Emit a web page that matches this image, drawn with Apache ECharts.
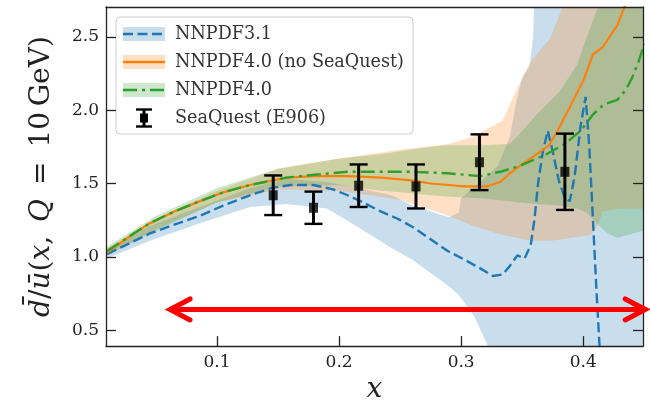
<!DOCTYPE html>
<html>
<head>
<meta charset="utf-8">
<script src="https://cdn.jsdelivr.net/npm/echarts@6/dist/echarts.min.js"></script>
<style>
  html, body { margin: 0; padding: 0; background: #fff; }
  #chart { width: 650px; height: 409px; }
</style>
</head>
<body>
<div id="chart"></div>
<script>
// ---- NNPDF3.1: central value ----
const x31 = [0.01, 0.03, 0.045, 0.065, 0.086, 0.105, 0.127, 0.145, 0.16, 0.179, 0.195, 0.207, 0.22, 0.234, 0.248, 0.261, 0.275, 0.289, 0.303, 0.316, 0.326, 0.334, 0.34, 0.346, 0.352, 0.357, 0.36, 0.363, 0.367, 0.371, 0.375, 0.38, 0.385, 0.389, 0.393, 0.398, 0.402, 0.405, 0.408, 0.411, 0.414];
const y31 = [1.02, 1.10, 1.16, 1.22, 1.28, 1.35, 1.42, 1.47, 1.49, 1.49, 1.46, 1.42, 1.37, 1.31, 1.26, 1.20, 1.12, 1.04, 0.98, 0.92, 0.87, 0.88, 0.94, 1.01, 0.99, 1.08, 1.25, 1.50, 1.72, 1.86, 1.72, 1.52, 1.40, 1.38, 1.55, 1.90, 2.09, 1.75, 1.25, 0.75, 0.30];
// ---- NNPDF3.1: uncertainty band ----
const xBand31 = [0.01, 0.045, 0.086, 0.127, 0.157, 0.19, 0.216, 0.243, 0.26, 0.29, 0.298, 0.30, 0.311, 0.322, 0.33, 0.34, 0.345, 0.35, 0.356, 0.359, 0.36, 0.45];
const lo31 = [0.99, 1.11, 1.23, 1.34, 1.36, 1.33, 1.20, 1.06, 0.98, 0.80, 0.74, 0.72, 0.59, 0.39, 0.20, 0.10, 0.10, 0.10, 0.10, 0.10, 0.10, 0.10];
const hi31 = [1.05, 1.21, 1.34, 1.47, 1.53, 1.51, 1.47, 1.42, 1.35, 1.27, 1.30, 1.40, 1.48, 1.56, 1.62, 1.82, 2.05, 2.22, 2.30, 2.50, 2.80, 2.80];

// ---- NNPDF4.0 (no SeaQuest): central value ----
const x40n = [0.01, 0.03, 0.045, 0.065, 0.086, 0.105, 0.127, 0.157, 0.18, 0.207, 0.235, 0.261, 0.275, 0.29, 0.302, 0.321, 0.332, 0.34, 0.348, 0.355, 0.362, 0.372, 0.379, 0.389, 0.40, 0.408, 0.416, 0.428, 0.436];
const y40n = [1.03, 1.15, 1.23, 1.31, 1.38, 1.44, 1.49, 1.54, 1.55, 1.55, 1.54, 1.52, 1.50, 1.49, 1.48, 1.48, 1.51, 1.57, 1.62, 1.66, 1.70, 1.76, 1.86, 2.02, 2.20, 2.38, 2.43, 2.58, 2.75];
// ---- NNPDF4.0 (no SeaQuest): uncertainty band ----
const xBand40n = [0.01, 0.05, 0.1, 0.15, 0.2, 0.25, 0.29, 0.31, 0.334, 0.346, 0.357, 0.373, 0.383, 0.39, 0.406, 0.411, 0.416, 0.43, 0.45];
const lo40n = [1.01, 1.19, 1.37, 1.46, 1.45, 1.39, 1.28, 1.21, 1.15, 1.13, 1.11, 1.11, 1.12, 1.13, 1.15, 1.20, 1.31, 1.33, 1.33];
const hi40n = [1.06, 1.26, 1.45, 1.60, 1.67, 1.73, 1.77, 1.82, 1.93, 2.15, 2.33, 2.49, 2.70, 2.80, 2.80, 2.80, 2.80, 2.80, 2.80];

// ---- NNPDF4.0: central value ----
const x40 = [0.01, 0.03, 0.045, 0.065, 0.086, 0.105, 0.127, 0.157, 0.18, 0.207, 0.235, 0.261, 0.289, 0.316, 0.332, 0.348, 0.37, 0.385, 0.398, 0.408, 0.417, 0.428, 0.435, 0.44, 0.445, 0.45];
const y40 = [1.04, 1.15, 1.23, 1.31, 1.38, 1.44, 1.49, 1.54, 1.56, 1.58, 1.58, 1.58, 1.57, 1.55, 1.58, 1.62, 1.70, 1.77, 1.86, 1.97, 2.04, 2.07, 2.14, 2.22, 2.32, 2.45];
// ---- NNPDF4.0: uncertainty band ----
const xBand40 = [0.01, 0.05, 0.1, 0.15, 0.2, 0.234, 0.25, 0.275, 0.29, 0.316, 0.34, 0.348, 0.362, 0.381, 0.395, 0.403, 0.412, 0.42, 0.428, 0.45];
const lo40 = [1.01, 1.18, 1.37, 1.48, 1.49, 1.45, 1.44, 1.42, 1.41, 1.40, 1.38, 1.37, 1.36, 1.35, 1.33, 1.30, 1.22, 1.16, 1.13, 1.18];
const hi40 = [1.07, 1.28, 1.47, 1.60, 1.67, 1.70, 1.72, 1.75, 1.76, 1.76, 1.77, 1.84, 1.97, 2.13, 2.31, 2.50, 2.70, 2.80, 2.80, 2.80];

// ---- SeaQuest (E906) measurements ----
const xSQ = [0.146, 0.179, 0.216, 0.263, 0.315, 0.385];
const ySQ = [1.42, 1.335, 1.485, 1.48, 1.645, 1.58];
const errSQ = [0.135, 0.11, 0.145, 0.15, 0.19, 0.26];

// ---- highlighted x range (red double arrow) ----
const arrowX = [0.0615, 0.4508];
const arrowY = 0.642;

// ---- axes ----
const xRange = [0.009, 0.449];
const yRange = [0.392, 2.703];
const xTicks = [0.1, 0.2, 0.3, 0.4];
const yTicks = [0.5, 1.0, 1.5, 2.0, 2.5];

const C0 = '#1f77b4', C1 = '#ff7f0e', C2 = '#2ca02c';
const SERIF = 'DejaVu Serif';
const INK = '#222';

const zip = (xs, ys) => xs.map((x, i) => [x, ys[i]]);

function bandSeries(name, xs, lo, hi, color) {
  return {
    name: name,
    type: 'custom',
    coordinateSystem: 'cartesian2d',
    clip: true,
    silent: true,
    z: 1,
    encode: { x: 0, y: 1 },
    data: [[xs[0], lo[0]]],
    renderItem: function (params, api) {
      const top = xs.map((x, i) => api.coord([x, hi[i]]));
      const bot = xs.map((x, i) => api.coord([x, lo[i]])).reverse();
      return {
        type: 'polygon',
        shape: { points: top.concat(bot) },
        style: { fill: color, opacity: 0.24 }
      };
    }
  };
}

function svgIcon(body) {
  const svg = "<svg xmlns='http://www.w3.org/2000/svg' width='52' height='20' viewBox='0 0 52 20'>" + body + "</svg>";
  return 'image://data:image/svg+xml;charset=utf-8,' + encodeURIComponent(svg);
}
function bandIcon(color, dash) {
  return svgIcon(
    "<rect x='0' y='3' width='42' height='14' fill='" + color + "' fill-opacity='0.24'/>" +
    "<line x1='0' y1='10' x2='42' y2='10' stroke='" + color + "' stroke-width='2.4'" +
    (dash ? " stroke-dasharray='" + dash + "'" : "") + "/>"
  );
}
const errIcon = svgIcon(
  "<line x1='21' y1='1.5' x2='21' y2='18.5' stroke='#000' stroke-width='3'/>" +
  "<line x1='13' y1='1.5' x2='29' y2='1.5' stroke='#000' stroke-width='2.4'/>" +
  "<line x1='13' y1='18.5' x2='29' y2='18.5' stroke='#000' stroke-width='2.4'/>" +
  "<rect x='17' y='5.5' width='8' height='9' fill='#000'/>"
);

const chart = echarts.init(document.getElementById('chart'), null, { renderer: 'canvas' });

const axisLineStyle = { color: INK, width: 1.3 };

chart.setOption({
  animation: false,
  backgroundColor: '#fff',
  grid: { left: 106, right: 7, top: 7, bottom: 60, containLabel: false },
  legend: {
    orient: 'vertical',
    left: 116,
    top: 17,
    itemWidth: 52,
    itemHeight: 20,
    itemGap: 8,
    padding: [7, 9, 6, 7],
    backgroundColor: '#fff',
    borderColor: '#cccccc',
    borderWidth: 1,
    borderRadius: 4,
    selectedMode: false,
    textStyle: { fontFamily: SERIF, fontSize: 17.6, color: '#333', lineHeight: 20, padding: [0, 0, 0, -5] },
    data: [
      { name: 'NNPDF3.1', icon: bandIcon(C0, '10,4.5') },
      { name: 'NNPDF4.0 (no SeaQuest)', icon: bandIcon(C1, '') },
      { name: 'NNPDF4.0', icon: bandIcon(C2, '14,5,3,5') },
      { name: 'SeaQuest (E906)', icon: errIcon }
    ]
  },
  xAxis: [
    {
      type: 'value', min: xRange[0], max: xRange[1], position: 'bottom', z: 5,
      axisLine: { show: true, lineStyle: axisLineStyle },
      axisTick: { show: true, inside: true, length: 10, customValues: xTicks, lineStyle: axisLineStyle },
      axisLabel: { customValues: xTicks, formatter: v => v.toFixed(1), fontFamily: SERIF, fontSize: 17, color: INK, margin: 8 },
      splitLine: { show: false },
      name: 'x', nameLocation: 'middle', nameGap: 29,
      nameTextStyle: { fontFamily: SERIF, fontStyle: 'italic', fontSize: 28, color: INK }
    },
    {
      type: 'value', min: xRange[0], max: xRange[1], position: 'top', z: 5,
      axisLine: { show: true, lineStyle: axisLineStyle },
      axisTick: { show: false }, axisLabel: { show: false }, splitLine: { show: false }
    }
  ],
  yAxis: [
    {
      type: 'value', min: yRange[0], max: yRange[1], position: 'left', z: 5,
      axisLine: { show: true, lineStyle: axisLineStyle },
      axisTick: { show: true, inside: true, length: 10, customValues: yTicks, lineStyle: axisLineStyle },
      axisLabel: { customValues: yTicks, formatter: v => v.toFixed(1), fontFamily: SERIF, fontSize: 17, color: INK, margin: 7 },
      splitLine: { show: false },
      name: '{i|d\u0304}/{i|u\u0304}({i|x},\u2002{i|Q}\u2002=\u200210\u2009GeV)',
      nameLocation: 'middle', nameRotate: 90, nameGap: 50,
      nameTextStyle: {
        fontFamily: SERIF, fontSize: 28, color: INK,
        rich: { i: { fontFamily: SERIF, fontStyle: 'italic', fontSize: 28, color: INK } }
      }
    },
    {
      type: 'value', min: yRange[0], max: yRange[1], position: 'right', z: 5,
      axisLine: { show: true, lineStyle: axisLineStyle },
      axisTick: { show: true, inside: true, length: 10, customValues: yTicks, lineStyle: axisLineStyle },
      axisLabel: { show: false }, splitLine: { show: false }
    }
  ],
  series: [
    bandSeries('NNPDF3.1 band', xBand31, lo31, hi31, C0),
    bandSeries('NNPDF4.0 (no SeaQuest) band', xBand40n, lo40n, hi40n, C1),
    bandSeries('NNPDF4.0 band', xBand40, lo40, hi40, C2),
    {
      name: 'NNPDF3.1', type: 'line', data: zip(x31, y31), symbol: 'none', z: 3, clip: true,
      lineStyle: { color: C0, width: 2.4, type: [10, 4.5] }, itemStyle: { color: C0 }
    },
    {
      name: 'NNPDF4.0 (no SeaQuest)', type: 'line', data: zip(x40n, y40n), symbol: 'none', z: 3, clip: true,
      lineStyle: { color: C1, width: 2.2 }, itemStyle: { color: C1 }
    },
    {
      name: 'NNPDF4.0', type: 'line', data: zip(x40, y40), symbol: 'none', z: 3, clip: true,
      lineStyle: { color: C2, width: 2.4, type: [14, 5, 3, 5] }, itemStyle: { color: C2 }
    },
    {
      name: 'SeaQuest (E906)', type: 'custom', z: 4, clip: true,
      encode: { x: 0, y: 1 },
      data: xSQ.map((x, i) => [x, ySQ[i], errSQ[i]]),
      renderItem: function (params, api) {
        const x = api.value(0), y = api.value(1), e = api.value(2);
        const top = api.coord([x, y + e]);
        const bot = api.coord([x, y - e]);
        const cap = 9;
        const st = { stroke: '#000', lineWidth: 2.4 };
        return {
          type: 'group',
          children: [
            { type: 'line', shape: { x1: top[0], y1: top[1], x2: bot[0], y2: bot[1] }, style: { stroke: '#000', lineWidth: 3 } },
            { type: 'line', shape: { x1: top[0] - cap, y1: top[1], x2: top[0] + cap, y2: top[1] }, style: st },
            { type: 'line', shape: { x1: bot[0] - cap, y1: bot[1], x2: bot[0] + cap, y2: bot[1] }, style: st }
          ]
        };
      }
    },
    {
      name: 'SeaQuest (E906) points', type: 'scatter', z: 4,
      data: zip(xSQ, ySQ), symbol: 'rect', symbolSize: [9, 10],
      itemStyle: { color: '#000' }
    },
    {
      name: 'range', type: 'custom', z: 10, clip: false, silent: true,
      encode: { x: [0, 1], y: 2 },
      data: [[arrowX[0], arrowX[1], arrowY]],
      renderItem: function (params, api) {
        const a = api.coord([api.value(0), api.value(2)]);
        const b = api.coord([api.value(1), api.value(2)]);
        const hx = 20, hy = 10.5;
        const st = { stroke: '#ff0000', lineWidth: 5, lineCap: 'round', lineJoin: 'miter', fill: 'none' };
        return {
          type: 'group',
          children: [
            { type: 'line', shape: { x1: a[0] + 2, y1: a[1], x2: b[0] - 2, y2: b[1] }, style: st },
            { type: 'polyline', shape: { points: [[a[0] + hx, a[1] - hy], [a[0], a[1]], [a[0] + hx, a[1] + hy]] }, style: st },
            { type: 'polyline', shape: { points: [[b[0] - hx, b[1] - hy], [b[0], b[1]], [b[0] - hx, b[1] + hy]] }, style: st }
          ]
        };
      }
    }
  ]
});
</script>
</body>
</html>
